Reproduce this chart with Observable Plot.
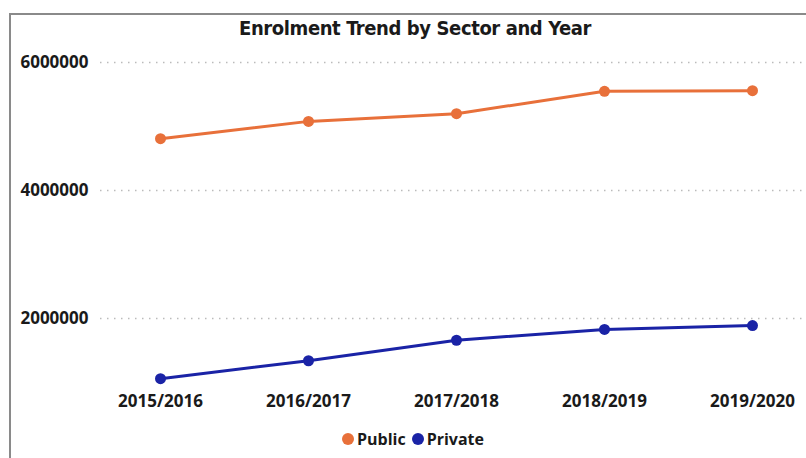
<!DOCTYPE html>
<html>
<head>
<meta charset="utf-8">
<script src="https://cdn.jsdelivr.net/npm/d3@7"></script>
<script src="https://cdn.jsdelivr.net/npm/@observablehq/plot@0.6"></script>
<style>
  html, body { margin: 0; padding: 0; background: #fff; }
  body { width: 806px; height: 458px; position: relative; overflow: hidden; }
  #frame { position: absolute; left: 9px; top: 13px; width: 800px; height: 450px;
           border-left: 2px solid #8a8a8a; border-top: 2px solid #8a8a8a; }
  #title { position: absolute; left: 0; width: 830px; top: 16px; text-align: center;
           font-family: "DejaVu Sans Condensed", "Liberation Sans Narrow", sans-serif;
           font-weight: 700; font-size: 20px; color: #1a1a1a; letter-spacing: -0.4px; }
  #chart { position: absolute; left: 0; top: 0; }
  #legend { position: absolute; left: 0; width: 826px; top: 428px; text-align: center;
            font-family: "Open Sans", sans-serif; font-weight: 700; font-size: 16px; color: #1a1a1a; }
  #legend span.item { display: inline-flex; align-items: center; margin: 0 3px; }
  #legend span.dot { display: inline-block; width: 12px; height: 12px; border-radius: 50%; margin-right: 3px; }
</style>
</head>
<body>
<div id="frame"></div>
<div id="chart"></div>
<div id="title">Enrolment Trend by Sector and Year</div>
<div id="legend"></div>
<script>
const years = ["2015/2016", "2016/2017", "2017/2018", "2018/2019", "2019/2020"];
const sectors = ["Public", "Private"];
const publicValues = [4810000, 5080000, 5200000, 5550000, 5560000];
const privateValues = [1060000, 1340000, 1660000, 1830000, 1890000];
const yTicks = [2000000, 4000000, 6000000];
const colors = ["#E8703A", "#1A23A6"];

const data = [];
years.forEach((yr, i) => {
  data.push({year: yr, sector: "Public", value: publicValues[i]});
  data.push({year: yr, sector: "Private", value: privateValues[i]});
});

const chart = Plot.plot({
  width: 806,
  height: 420,
  marginLeft: 100,
  marginRight: 0,
  marginTop: 62,
  marginBottom: 38,
  style: {background: "transparent", fontFamily: "'Open Sans', sans-serif", fontWeight: 700, fontSize: "17px", color: "#1a1a1a"},
  x: {domain: years, padding: 0.385, align: 0.526, label: null},
  y: {domain: [1000000, 6000000], label: null},
  color: {domain: sectors, range: colors},
  marks: [
    Plot.gridY(yTicks, {stroke: "#bbb", strokeOpacity: 1, strokeWidth: 1.3, strokeDasharray: "1.5,5.5"}),
    Plot.axisY(yTicks, {tickSize: 0, tickPadding: 12, tickFormat: d3.format("d"), label: null, fontSize: 17, fontWeight: 700}),
    Plot.axisX({tickSize: 0, tickPadding: 12, label: null, fontSize: 17, fontWeight: 700}),
    Plot.line(data, {x: "year", y: "value", z: "sector", stroke: "sector", strokeWidth: 3}),
    Plot.dot(data, {x: "year", y: "value", fill: "sector", r: 5.5})
  ]
});
document.getElementById("chart").appendChild(chart);

const legend = document.getElementById("legend");
sectors.forEach((s, i) => {
  const item = document.createElement("span");
  item.className = "item";
  const dot = document.createElement("span");
  dot.className = "dot";
  dot.style.background = colors[i];
  item.appendChild(dot);
  item.appendChild(document.createTextNode(s));
  legend.appendChild(item);
});
</script>
</body>
</html>
